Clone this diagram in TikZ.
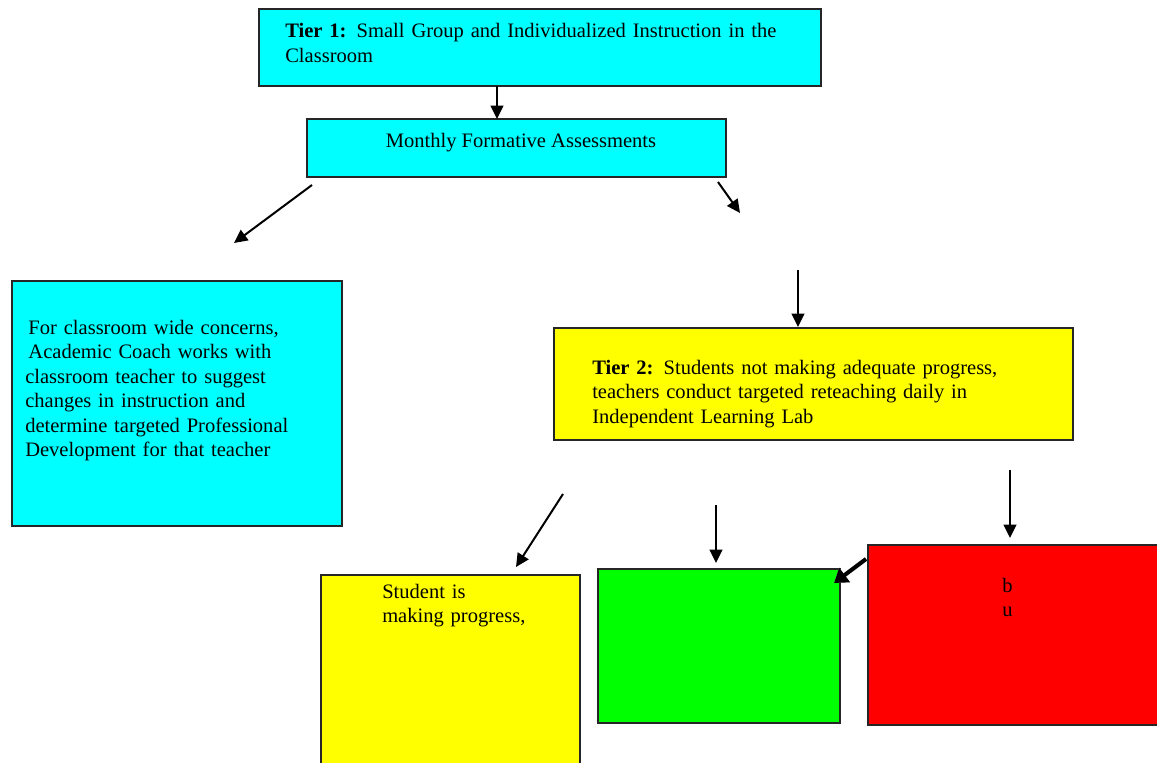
\documentclass[tikz,border=0pt]{standalone}
\usepackage{fontspec}
\setmainfont{Liberation Serif}
\usetikzlibrary{arrows.meta}
\definecolor{cy}{HTML}{00FFFF}
\definecolor{ye}{HTML}{FFFF00}
\definecolor{gr}{HTML}{00FF00}
\definecolor{rd}{HTML}{FF0000}
\begin{document}
\begin{tikzpicture}[x=0.75pt,y=-0.75pt,
  box/.style={draw=black!85, line width=1.1pt},
  txt/.style={anchor=base west, inner sep=0pt, text width=520pt, align=left,
              font=\fontsize{15.4}{18.4}\selectfont},
  arr/.style={line width=1.5pt, -{Triangle[length=10pt,width=9.5pt]}},
  thickarr/.style={line width=3pt, -{Triangle[length=10pt,width=13pt]}}]
\useasboundingbox (0,0) rectangle (1157,763);
% boxes
\path[box, fill=cy] (259,9) rectangle (821,86);
\path[box, fill=cy] (307,119) rectangle (726,177);
\path[box, fill=cy] (12,281) rectangle (342,526);
\path[box, fill=ye] (554,328) rectangle (1073,440);
\path[box, fill=ye] (321,575) rectangle (580,775);
\path[box, fill=gr] (598,569) rectangle (840,723);
\path[box, fill=rd] (868,545) rectangle (1170,725);
% texts
\node[txt] (t1) at (285,37.5) {\textbf{Tier 1:} Small Group and Individualized Instruction in the\\Classroom};
\node[anchor=base, inner sep=0pt, font=\fontsize{15.4}{18.4}\selectfont] (mfa) at (521,147.5) {Monthly Formative Assessments};
\node[txt] (cw) at (25,334) {\hspace{2.4pt}For classroom wide concerns,\\\hspace{2.4pt}Academic Coach works with\\classroom teacher to suggest\\changes in instruction and\\determine targeted Professional\\Development for that teacher};
\node[txt] (t2) at (592,374) {\textbf{Tier 2:} Students not making adequate progress,\\teachers conduct targeted reteaching daily in\\Independent Learning Lab};
\node[txt] (sp) at (382,598) {Student is\\making progress,};
\node[txt] (bu) at (1002,592) {b\\u};
% connector end points
\coordinate (a1s) at (497,86);  \coordinate (a1e) at (497,119);
\coordinate (a2s) at (312,185); \coordinate (a2e) at (234,243);
\coordinate (a3s) at (718,182); \coordinate (a3e) at (740,213);
\coordinate (a4s) at (798,270); \coordinate (a4e) at (798,327);
\coordinate (a5s) at (563,494); \coordinate (a5e) at (516,567);
\coordinate (a6s) at (716,505); \coordinate (a6e) at (716,563);
\coordinate (a7s) at (1010,470);\coordinate (a7e) at (1010,538);
\coordinate (a8s) at (866,559); \coordinate (a8e) at (834,583);
\draw[arr] (a1s) -- (a1e);
\draw[arr] (a2s) -- (a2e);
\draw[arr] (a3s) -- (a3e);
\draw[arr] (a4s) -- (a4e);
\draw[arr] (a5s) -- (a5e);
\draw[arr] (a6s) -- (a6e);
\draw[arr] (a7s) -- (a7e);
\draw[thickarr, black!25, shift={(2,2)}] (a8s) -- (a8e);
\draw[thickarr] (a8s) -- (a8e);
\end{tikzpicture}
\end{document}
